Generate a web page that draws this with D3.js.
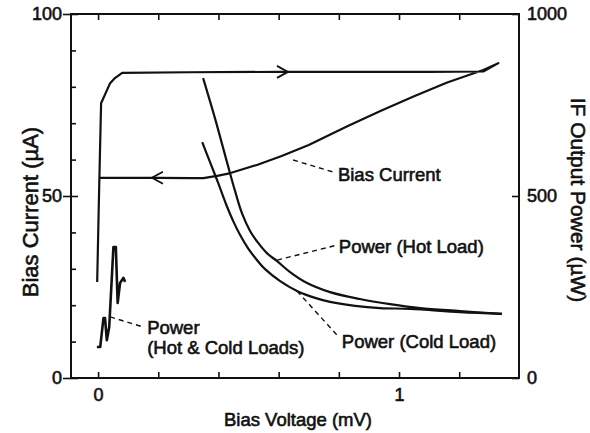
<!DOCTYPE html>
<html>
<head>
<meta charset="utf-8">
<script src="https://cdn.jsdelivr.net/npm/d3@7"></script>
<style>
  body { margin: 0; background: #fff; }
  svg text { font-family: "Liberation Sans", Arial, Helvetica, sans-serif; fill: #111; stroke: #111; stroke-width: 0.6px; }
</style>
</head>
<body>
<div id="chart"></div>
<script>
// Bias current sweep (up along the left edge, across the top, back down the slope)
const biasV = [-0.003, 0.003, 0.01, 0.04, 0.056, 0.08, 0.3, 0.6, 0.9, 1.1, 1.28, 1.33, 1.28, 1.16, 1.05, 0.94, 0.83, 0.77, 0.70, 0.61, 0.53, 0.44, 0.40, 0.35, 0.31, 0.2, 0.007];
const biasI = [26.4, 50, 75.5, 81, 82.4, 83.8, 84, 84.1, 84.1, 84.1, 84.2, 86.5, 84.6, 81.2, 77.4, 73.4, 69.2, 66.8, 64, 61, 58.6, 56.3, 55.6, 54.9, 54.9, 55, 55];

// IF output power (µW)
const hotV = [0.349, 0.389, 0.429, 0.455, 0.478, 0.505, 0.532, 0.561, 0.595, 0.638, 0.688, 0.771, 0.870, 0.970, 1.070, 1.203, 1.342];
const hotP = [824, 712, 591, 514, 453, 404, 371, 343, 321, 291, 264, 236, 217, 203, 192, 184, 176];
const coldV = [0.346, 0.372, 0.399, 0.425, 0.449, 0.472, 0.498, 0.525, 0.555, 0.605, 0.661, 0.721, 0.771, 0.854, 0.937, 1.037, 1.203, 1.342];
const coldP = [648, 593, 536, 478, 431, 393, 357, 327, 299, 266, 239, 220, 209, 198, 192, 190, 181, 176];
const bothV = [-0.004, 0.007, 0.018, 0.023, 0.029, 0.037, 0.051, 0.059, 0.065, 0.073, 0.084, 0.090];
const bothP = [85, 85, 165, 165, 104, 140, 360, 360, 206, 261, 275, 264];

// sweep direction arrows
const arrowV = [0.631, 0.179];
const arrowI = [84.1, 55];
const arrowDir = [1, -1];

const xTicks = [0, 0.2, 0.4, 0.6, 0.8, 1, 1.2];
const xTickLabels = ["0", "1"];
const yLeftTicks = [0, 10, 20, 30, 40, 50, 60, 70, 80, 90, 100];
const yLeftLabels = [0, 50, 100];
const yRightLabels = [0, 500, 1000];

const W = 590, H = 433;
const mLeft = 71, mRight = 519, mTop = 14, mBottom = 378;

const x = d3.scaleLinear().domain([-0.09, 1.4]).range([mLeft, mRight + 0.4]);
const yI = d3.scaleLinear().domain([0, 100]).range([mBottom, mTop]);
const yP = d3.scaleLinear().domain([0, 1000]).range([mBottom, mTop]);

const svg = d3.select("#chart").append("svg")
  .attr("width", W).attr("height", H);

// Frame
svg.append("rect")
  .attr("x", mLeft).attr("y", mTop)
  .attr("width", mRight - mLeft).attr("height", mBottom - mTop)
  .attr("fill", "none").attr("stroke", "#111").attr("stroke-width", 2);

// Axes (ticks inward)
const fmtX = d => xTickLabels.includes(String(d)) ? String(d) : "";
const bottomAxis = svg.append("g").attr("transform", `translate(0,${mBottom})`)
  .call(d3.axisBottom(x).tickValues(xTicks).tickSize(-6).tickPadding(10).tickFormat(fmtX));
const topAxis = svg.append("g").attr("transform", `translate(0,${mTop})`)
  .call(d3.axisTop(x).tickValues(xTicks).tickSize(-6).tickFormat(""));
const leftAxis = svg.append("g").attr("transform", `translate(${mLeft},0)`)
  .call(d3.axisLeft(yI).tickValues(yLeftTicks).tickSize(-5).tickPadding(10)
    .tickFormat(d => yLeftLabels.includes(d) ? d : ""));
const rightAxis = svg.append("g").attr("transform", `translate(${mRight},0)`)
  .call(d3.axisRight(yP).tickValues(yRightLabels).tickSize(-7).tickPadding(8).tickFormat(d3.format("d")));

[bottomAxis, topAxis, leftAxis, rightAxis].forEach(g => {
  g.select(".domain").remove();
  g.selectAll(".tick line").attr("stroke", "#111").attr("stroke-width", 1.6);
  g.selectAll(".tick text").attr("font-size", 18).attr("fill", "#111")
    .attr("font-family", "Liberation Sans, Arial, sans-serif");
});
// major left ticks cross the axis
leftAxis.selectAll(".tick").filter(d => yLeftLabels.includes(d))
  .select("line").attr("x1", -8).attr("x2", 7);
leftAxis.selectAll(".tick text").attr("x", -9);

// Curves
const lineI = d3.line().x(d => x(d[0])).y(d => yI(d[1]));
const lineP = d3.line().x(d => x(d[0])).y(d => yP(d[1]));
const lineSmooth = d3.line().x(d => x(d[0])).y(d => yP(d[1])).curve(d3.curveCatmullRom);

svg.append("path")
  .datum(d3.zip(biasV, biasI))
  .attr("fill", "none").attr("stroke", "#111").attr("stroke-width", 2.2)
  .attr("stroke-linejoin", "round")
  .attr("d", lineI);

svg.append("path")
  .datum(d3.zip(hotV, hotP))
  .attr("fill", "none").attr("stroke", "#111").attr("stroke-width", 2.2)
  .attr("d", lineSmooth);

svg.append("path")
  .datum(d3.zip(coldV, coldP))
  .attr("fill", "none").attr("stroke", "#111").attr("stroke-width", 2.2)
  .attr("d", lineSmooth);

svg.append("path")
  .datum(d3.zip(bothV, bothP))
  .attr("fill", "none").attr("stroke", "#111").attr("stroke-width", 2.6)
  .attr("stroke-linejoin", "round")
  .attr("d", lineP);

// Arrow chevrons
d3.zip(arrowV, arrowI, arrowDir).forEach(([v, i, dir]) => {
  const tx = x(v), ty = yI(i);
  svg.append("path")
    .attr("d", `M${tx - dir * 11},${ty - 6}L${tx},${ty}L${tx - dir * 11},${ty + 6}`)
    .attr("fill", "none").attr("stroke", "#111").attr("stroke-width", 1.8);
});

// Annotations: dashed leaders + labels (data units)
const notes = [
  { from: [0.648, 59.9], to: [0.781, 56.6], scale: yI, at: [0.797, 55.8], lines: ["Bias Current"] },
  { from: [0.595, 324], to: [0.794, 365], scale: yP, at: [0.80, 360], lines: ["Power (Hot Load)"] },
  { from: [0.661, 239], to: [0.794, 118], scale: yP, at: [0.81, 99], lines: ["Power (Cold Load)"] },
  { from: [0.04, 168], to: [0.15, 140], scale: yP, at: [0.163, 140], lines: ["Power", "(Hot & Cold Loads)"] }
];
notes.forEach(n => {
  svg.append("line")
    .attr("x1", x(n.from[0])).attr("y1", n.scale(n.from[1]))
    .attr("x2", x(n.to[0])).attr("y2", n.scale(n.to[1]))
    .attr("stroke", "#111").attr("stroke-width", 1.4)
    .attr("stroke-dasharray", "5,4");
  n.lines.forEach((t, k) => {
    svg.append("text")
      .attr("x", x(n.at[0])).attr("y", n.scale(n.at[1]) + k * 20)
      .attr("dy", "0.35em")
      .attr("font-size", 18.5)
      .text(t);
  });
});

// Axis titles
svg.append("text")
  .attr("x", (mLeft + mRight) / 2 + 3).attr("y", 426)
  .attr("text-anchor", "middle").attr("font-size", 18.5)
  .text("Bias Voltage (mV)");

svg.append("text")
  .attr("transform", `translate(38,212) rotate(-90)`)
  .attr("text-anchor", "middle").attr("font-size", 22)
  .text("Bias Current (µA)");

svg.append("text")
  .attr("transform", `translate(571,200) rotate(90)`)
  .attr("text-anchor", "middle").attr("font-size", 21)
  .text("IF Output Power (µW)");
</script>
</body>
</html>
